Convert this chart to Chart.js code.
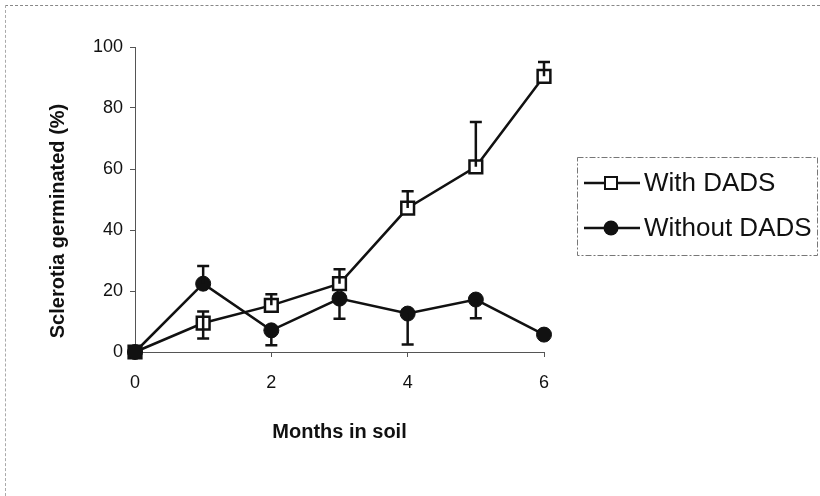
<!DOCTYPE html>
<html>
<head>
<meta charset="utf-8">
<script src="https://cdn.jsdelivr.net/npm/chart.js@4/dist/chart.umd.min.js"></script>
<style>
  html, body { margin: 0; padding: 0; background: #fff; }
  #wrap { position: relative; width: 820px; height: 496px; }
  #wrap:before { content: ""; position: absolute; left: 5px; top: 5px; right: 0; bottom: 0;
    border-top: 1px dashed #888; border-left: 1px dashed #aaa; pointer-events: none; }
</style>
</head>
<body>
<div id="wrap"><canvas id="chart" width="820" height="496"></canvas></div>
<script>
// datos
const months = [0, 1, 2, 3, 4, 5, 6];
const withDads = [0, 9.5, 15.3, 22.4, 47.2, 60.7, 90.4];
const withDadsErrUp = [0, 3.8, 3.6, 4.7, 5.5, 14.7, 4.7];
const withDadsErrDown = [0, 5.1, 0, 0, 0, 0, 0];
const withoutDads = [0, 22.4, 7.1, 17.5, 12.6, 17.2, 5.7];
const withoutDadsErrUp = [0, 5.8, 0, 0, 0, 0, 0];
const withoutDadsErrDown = [0, 0, 4.9, 6.6, 10.1, 6.1, 0];
const xTickValues = [0, 2, 4, 6];
const yTickValues = [0, 20, 40, 60, 80, 100];
const seriesLabels = ['With DADS', 'Without DADS'];
const xTitle = 'Months in soil';
const yTitle = 'Sclerotia germinated (%)';

const FONT = '"Liberation Sans", Arial, sans-serif';

function toPoints(ys) {
  return months.map((m, i) => ({ x: m, y: ys[i] }));
}

// barras de error (solo las que se ven en la figura)
const errorBars = {
  id: 'errorBars',
  afterDatasetsDraw(chart) {
    const { ctx, scales: { x, y } } = chart;
    ctx.save();
    ctx.strokeStyle = '#111';
    ctx.lineWidth = 2.5;
    chart.data.datasets.forEach(ds => {
      ds.data.forEach((p, i) => {
        const px = x.getPixelForValue(p.x);
        const py = y.getPixelForValue(p.y);
        [[ds.errUp[i], 1], [ds.errDown[i], -1]].forEach(([e, s]) => {
          if (!e) return;
          const ey = y.getPixelForValue(p.y + s * e);
          ctx.beginPath();
          ctx.moveTo(px, py);
          ctx.lineTo(px, ey);
          ctx.moveTo(px - 6, ey);
          ctx.lineTo(px + 6, ey);
          ctx.stroke();
        });
      });
    });
    ctx.restore();
  }
};

// titulo eje Y y leyenda con linea + marcador
const extras = {
  id: 'extras',
  afterDraw(chart) {
    const { ctx } = chart;
    ctx.save();
    ctx.fillStyle = '#111';
    ctx.font = 'bold 20px ' + FONT;
    ctx.textAlign = 'center';
    ctx.textBaseline = 'middle';
    ctx.translate(58, 221);
    ctx.rotate(-Math.PI / 2);
    ctx.fillText(yTitle, 0, 0);
    ctx.restore();

    ctx.save();
    ctx.strokeStyle = '#777';
    ctx.lineWidth = 1;
    ctx.setLineDash([6, 2, 2, 2]);
    ctx.strokeRect(577.5, 157.5, 240, 98);
    ctx.setLineDash([]);
    chart.data.datasets.forEach((ds, i) => {
      const yy = 183 + i * 45;
      ctx.strokeStyle = '#111';
      ctx.lineWidth = 2.5;
      ctx.beginPath();
      ctx.moveTo(584, yy);
      ctx.lineTo(640, yy);
      ctx.stroke();
      if (ds.pointStyle === 'rect') {
        ctx.lineWidth = 2;
        ctx.fillStyle = '#fff';
        ctx.fillRect(605, yy - 6, 12, 12);
        ctx.strokeRect(605, yy - 6, 12, 12);
      } else {
        ctx.fillStyle = '#111';
        ctx.beginPath();
        ctx.arc(611, yy, 7.5, 0, Math.PI * 2);
        ctx.fill();
      }
      ctx.fillStyle = '#111';
      ctx.font = '26px ' + FONT;
      ctx.textAlign = 'left';
      ctx.textBaseline = 'middle';
      ctx.fillText(ds.label, 644, yy + 1);
    });
    ctx.restore();
  }
};

const axisBorder = { display: true, color: '#555', width: 1, dash: [8, 3, 2, 3] };

new Chart(document.getElementById('chart'), {
  type: 'line',
  data: {
    datasets: [
      {
        label: seriesLabels[0],
        data: toPoints(withDads),
        errUp: withDadsErrUp,
        errDown: withDadsErrDown,
        borderColor: '#111',
        borderWidth: 2.5,
        pointStyle: 'rect',
        pointRadius: 9,
        pointBorderWidth: 2.5,
        pointBackgroundColor: '#fff',
        pointBorderColor: '#111',
        tension: 0,
        clip: false,
        order: 2
      },
      {
        label: seriesLabels[1],
        data: toPoints(withoutDads),
        errUp: withoutDadsErrUp,
        errDown: withoutDadsErrDown,
        borderColor: '#111',
        borderWidth: 2.5,
        pointStyle: 'circle',
        pointRadius: 7.5,
        pointBorderWidth: 1,
        pointBackgroundColor: '#111',
        pointBorderColor: '#111',
        tension: 0,
        clip: false,
        order: 1
      }
    ]
  },
  options: {
    responsive: false,
    animation: false,
    layout: { padding: { top: 47, left: 0, right: 276, bottom: 0 } },
    plugins: { legend: { display: false }, tooltip: { enabled: false } },
    scales: {
      x: {
        type: 'linear',
        min: 0,
        max: 6,
        afterFit: s => { s.height = 144; },
        afterBuildTicks: s => { s.ticks = xTickValues.map(v => ({ value: v })); },
        border: axisBorder,
        grid: { drawOnChartArea: false, drawTicks: true, tickLength: 5, color: '#555' },
        ticks: { color: '#111', font: { family: FONT, size: 18 }, padding: 15 },
        title: {
          display: true,
          text: xTitle,
          color: '#111',
          font: { family: FONT, size: 20, weight: 'bold' },
          padding: { top: 0, bottom: 52 }
        }
      },
      y: {
        min: 0,
        max: 100,
        afterFit: s => { s.width = 135; },
        afterBuildTicks: s => { s.ticks = yTickValues.map(v => ({ value: v })); },
        border: axisBorder,
        grid: { drawOnChartArea: false, drawTicks: true, tickLength: 5, color: '#555' },
        ticks: { color: '#111', font: { family: FONT, size: 18 }, padding: 7 }
      }
    }
  },
  plugins: [errorBars, extras]
});
</script>
</body>
</html>
